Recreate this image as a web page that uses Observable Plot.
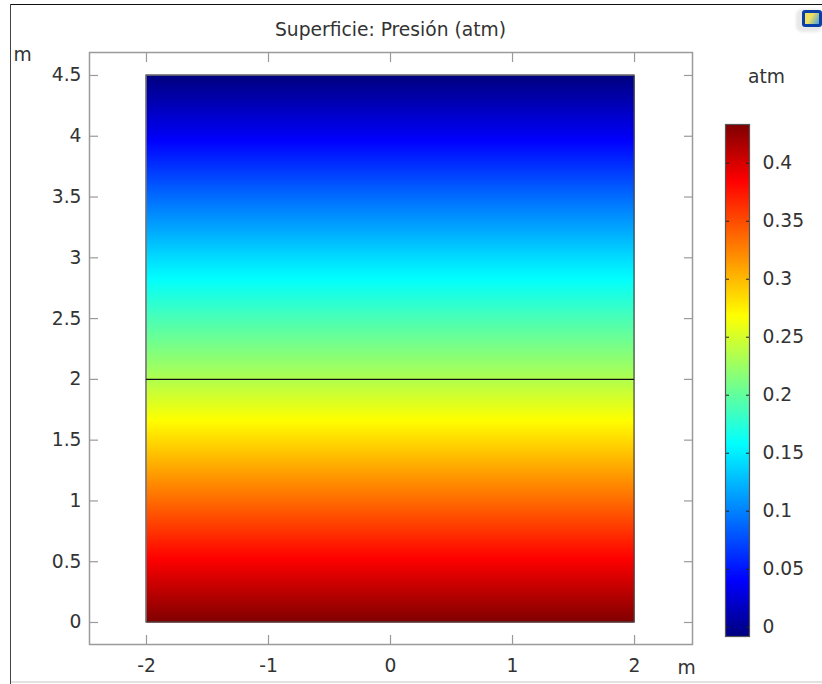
<!DOCTYPE html>
<html><head><meta charset="utf-8">
<script src="https://cdn.jsdelivr.net/npm/d3@7"></script>
<script src="https://cdn.jsdelivr.net/npm/@observablehq/plot@0.6"></script>
<style>
html,body{margin:0;padding:0;background:#fff;}
#page{position:relative;width:822px;height:684px;overflow:hidden;background:#fff;}
#page svg{position:absolute;left:0;top:0;background:transparent;}
.edge{position:absolute;}
#icon{position:absolute;left:802px;top:10px;width:20px;height:17px;border-radius:3px;background:#0b3fa8;box-shadow:-3px 2px 3px 3px #e8e8e8;}
#icon div{position:absolute;left:3px;top:3px;width:14px;height:11px;background:linear-gradient(120deg,#f0e060 40%,#4aa0e0);}
</style></head>
<body><div id="page">
<div class="edge" style="left:10px;top:4px;width:812px;height:1px;background:#111"></div>
<div class="edge" style="left:10px;top:4px;width:1px;height:680px;background:#444"></div>
<div class="edge" style="left:11px;top:681px;width:811px;height:2px;background:#e2e2e2"></div>
<div id="icon"><div></div></div>
</div>
<script>
const title = "Superficie: Presión (atm)";
const xTicks = [-2, -1, 0, 1, 2];
const yTicks = [0, 0.5, 1, 1.5, 2, 2.5, 3, 3.5, 4, 4.5];
const barTicks = [0, 0.05, 0.1, 0.15, 0.2, 0.25, 0.3, 0.35, 0.4];
const heights = [0, 0.5, 1, 1.5, 2, 2.5, 3, 3.5, 4, 4.5];
const pressures = [0.4334, 0.387, 0.336, 0.285, 0.2345, 0.1895, 0.142, 0.0905, 0.0365, -0.008];
const colorStops = [-0.008, 0.0405, 0.158, 0.2685, 0.3847, 0.4334];
const colorRange = ["#00007f", "#0000ff", "#00ffff", "#ffff00", "#ff0000", "#7f0000"];
const frameGray = "#9a9a9a";
const ink = "#333";

const color = {type: "linear", domain: colorStops, range: colorRange, interpolate: "rgb"};
const pressureAt = d3.scaleLinear(heights, pressures);
const font = {fontFamily: "'DejaVu Sans'", fontSize: "18.7px", background: "transparent", overflow: "visible"};
const txt = {text: d => d, fill: ink, lineAnchor: "middle", fontSize: 18.7};

const main = Plot.plot({
  width: 822, height: 684,
  marginLeft: 89, marginRight: 130, marginTop: 52, marginBottom: 40,
  x: {domain: [-2.467, 2.475]},
  y: {domain: [-0.181, 4.689]},
  color,
  style: font,
  marks: [
    Plot.raster({x1: -2, x2: 2, y1: 0, y2: 4.5, width: 4, height: 548, fill: (x, y) => pressureAt(y), imageRendering: "auto"}),
    Plot.rect([0], {x1: -2, x2: 2, y1: 0, y2: 4.5, stroke: "#444", strokeWidth: 1.2}),
    Plot.ruleY([2], {x1: -2, x2: 2, stroke: "#111", strokeWidth: 1.3}),
    Plot.axisX(xTicks, {anchor: "bottom", tickSize: -9, text: null, label: null, stroke: frameGray, strokeWidth: 1.2}),
    Plot.axisX(xTicks, {anchor: "top", tickSize: -9, text: null, label: null, stroke: frameGray, strokeWidth: 1.2}),
    Plot.axisY(yTicks, {anchor: "left", tickSize: -9, text: null, label: null, stroke: frameGray, strokeWidth: 1.2}),
    Plot.axisY(yTicks, {anchor: "right", tickSize: -9, text: null, label: null, stroke: frameGray, strokeWidth: 1.2}),
    Plot.axisX(xTicks, {anchor: "bottom", tickSize: 0, tickPadding: 14, label: null, fill: ink, fontSize: 18.7, tickFormat: d => String(d)}),
    Plot.axisY(yTicks, {anchor: "left", tickSize: 0, tickPadding: 8, label: null, fill: ink, fontSize: 18.7, tickFormat: d => String(d)}),
    Plot.frame({stroke: frameGray, strokeWidth: 1.5}),
    Plot.text([title], {...txt, frameAnchor: "top", dy: -22, dx: -0.5}),
    Plot.text(["m"], {...txt, frameAnchor: "top-left", dx: -67, dy: 3, textAnchor: "middle"}),
    Plot.text(["m"], {...txt, frameAnchor: "bottom-right", dx: -6, dy: 24, textAnchor: "middle"})
  ]
});

const bar = Plot.plot({
  width: 822, height: 684,
  marginLeft: 725, marginRight: 73, marginTop: 124, marginBottom: 48,
  x: {domain: [0, 1], axis: null},
  y: {domain: [-0.008, 0.4334]},
  color,
  style: font,
  marks: [
    Plot.raster({x1: 0, x2: 1, y1: -0.008, y2: 0.4334, width: 4, height: 512, fill: (x, y) => y}),
    Plot.axisY(barTicks, {anchor: "left", tickSize: -4, text: null, label: null, stroke: "#222"}),
    Plot.axisY(barTicks, {anchor: "right", tickSize: -4, text: null, label: null, stroke: "#222"}),
    Plot.axisY(barTicks, {anchor: "right", tickSize: 0, tickPadding: 13, label: null, fill: ink, fontSize: 18.7, tickFormat: d => String(d)}),
    Plot.frame({stroke: "#555", strokeWidth: 1.2}),
    Plot.text(["atm"], {...txt, frameAnchor: "top", dx: 29, dy: -47})
  ]
});

const page = document.getElementById("page");
page.append(main, bar);
</script>
</body></html>
